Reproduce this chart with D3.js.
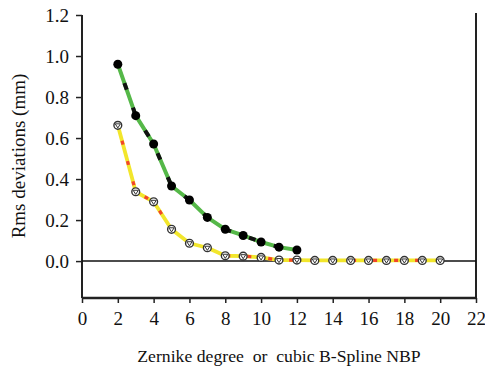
<!DOCTYPE html>
<html>
<head>
<meta charset="utf-8">
<script src="https://cdn.jsdelivr.net/npm/d3@7/dist/d3.min.js"></script>
<style>
  html, body { margin: 0; padding: 0; background: #fff; }
  svg { display: block; }
  svg text { font-family: "Times New Roman", "Liberation Serif", "DejaVu Serif", serif !important; fill: #111; }
</style>
</head>
<body>
<svg id="chart" width="485" height="373"></svg>
<script>
// Zernike fit: rms deviation per degree
const zernikeDegree = [2, 3, 4, 5, 6, 7, 8, 9, 10, 11, 12];
const zernikeRms = [0.96, 0.709, 0.571, 0.366, 0.298, 0.213, 0.155, 0.125, 0.093, 0.068, 0.054];

// Cubic B-spline fit: rms deviation per number of base points
const splineNbp = [2, 3, 4, 5, 6, 7, 8, 9, 10, 11, 12, 13, 14, 15, 16, 17, 18, 19, 20];
const splineRms = [0.662, 0.338, 0.289, 0.155, 0.087, 0.065, 0.026, 0.024, 0.018, 0.005, 0.005,
                   0.003, 0.003, 0.003, 0.003, 0.003, 0.003, 0.003, 0.003];

const xTicks = [0, 2, 4, 6, 8, 10, 12, 14, 16, 18, 20, 22];
const yTicks = [0.0, 0.2, 0.4, 0.6, 0.8, 1.0, 1.2];

const svg = d3.select("#chart");
const plotLeft = 82, plotRight = 476, plotTop = 15, plotBottom = 298;

const x = d3.scaleLinear().domain([0, 22]).range([plotLeft, plotRight]);
const y = d3.scaleLinear().domain([-0.18, 1.2]).range([plotBottom, plotTop]);

// left axis
const yAxis = d3.axisLeft(y).tickValues(yTicks).tickFormat(d3.format(".1f")).tickSize(6).tickPadding(7);
const gy = svg.append("g").attr("transform", `translate(${plotLeft},0)`).call(yAxis);
gy.attr("font-family", null);
gy.select(".domain").attr("d", `M0,${plotTop}V${plotBottom}`).attr("stroke", "#222").attr("stroke-width", 2);
gy.selectAll(".tick line").attr("stroke", "#222").attr("stroke-width", 1.5);
gy.selectAll(".tick text").style("font-size", "19px").attr("fill", "#111");

// bottom axis
const xAxis = d3.axisBottom(x).tickValues(xTicks).tickFormat(d3.format("d")).tickSize(5).tickPadding(9);
const gx = svg.append("g").attr("transform", `translate(0,${plotBottom})`).call(xAxis);
gx.attr("font-family", null);
gx.select(".domain").attr("d", `M${plotLeft},0H${plotRight}`).attr("stroke", "#222").attr("stroke-width", 2.5);
gx.selectAll(".tick line").attr("stroke", "#222").attr("stroke-width", 1.5);
gx.selectAll(".tick text").style("font-size", "19px").attr("fill", "#111");

// right border
svg.append("line")
  .attr("x1", x(22)).attr("x2", x(22)).attr("y1", y(1.2) - 2).attr("y2", plotBottom)
  .attr("stroke", "#222").attr("stroke-width", 2);

// zero line
svg.append("line")
  .attr("x1", plotLeft).attr("x2", plotRight).attr("y1", y(0)).attr("y2", y(0))
  .attr("stroke", "#111").attr("stroke-width", 1.5);

const line = d3.line().x(d => x(d[0])).y(d => y(d[1]));
const zData = zernikeDegree.map((d, i) => [d, zernikeRms[i]]);
const sData = splineNbp.map((d, i) => [d, splineRms[i]]);

// B-spline series: yellow with red dashes
svg.append("path").datum(sData).attr("d", line)
  .attr("fill", "none").attr("stroke", "#f2e62c").attr("stroke-width", 3.8).attr("stroke-linejoin", "round");
svg.append("path").datum(sData).attr("d", line)
  .attr("fill", "none").attr("stroke", "#f2452a").attr("stroke-width", 3.2).attr("stroke-dasharray", "4,17")
  .attr("stroke-dashoffset", -16);

// Zernike series: green with black dashes
svg.append("path").datum(zData).attr("d", line)
  .attr("fill", "none").attr("stroke", "#55b848").attr("stroke-width", 4).attr("stroke-linejoin", "round");
svg.append("path").datum(zData).attr("d", line)
  .attr("fill", "none").attr("stroke", "#111").attr("stroke-width", 4).attr("stroke-dasharray", "7,19")
  .attr("stroke-dashoffset", -20);

// markers
svg.append("g").selectAll("circle").data(zData).join("circle")
  .attr("cx", d => x(d[0])).attr("cy", d => y(d[1])).attr("r", 4.5).attr("fill", "#000");

const sm = svg.append("g").selectAll("g").data(sData).join("g")
  .attr("transform", d => `translate(${x(d[0])},${y(d[1])})`);
sm.append("circle").attr("r", 3.9).attr("fill", "#fff").attr("stroke", "#333").attr("stroke-width", 1.4);
sm.append("path").attr("d", "M-2.6,-1.5L2.6,-1.5L0,2.6Z").attr("fill", "#fff").attr("stroke", "#333").attr("stroke-width", 1);

// axis titles
svg.append("text")
  .attr("transform", `translate(25,156) rotate(-90)`)
  .attr("text-anchor", "middle").style("font-size", "19px")
  .text("Rms deviations (mm)");

svg.append("text")
  .attr("x", 279).attr("y", 362).attr("text-anchor", "middle")
  .style("font-size", "17.7px").style("white-space", "pre")
  .text("Zernike degree  or  cubic B-Spline NBP");
</script>
</body>
</html>
